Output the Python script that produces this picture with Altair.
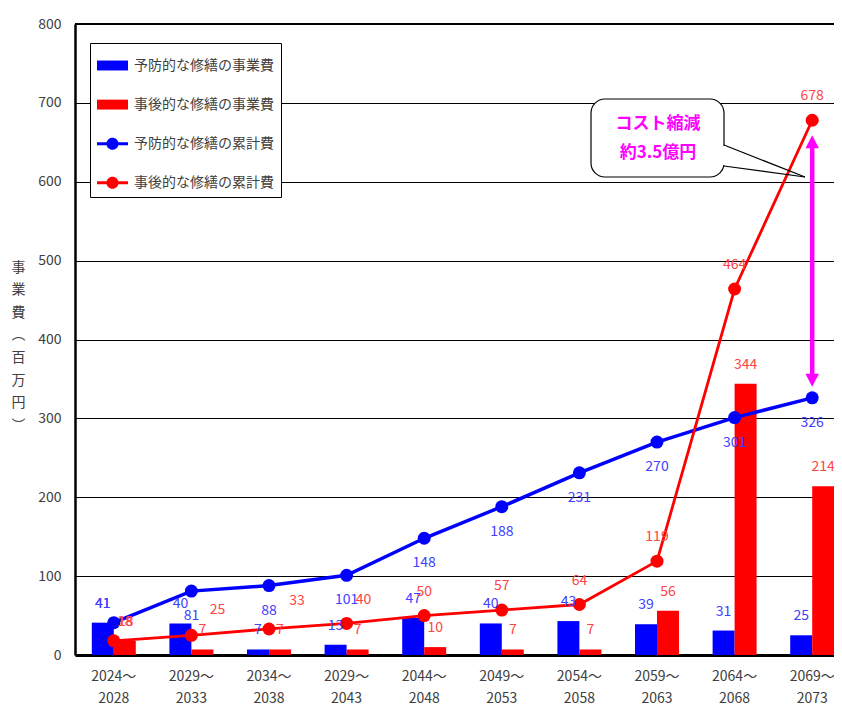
import altair as alt
import pandas as pd

FONT = "Noto Sans CJK JP"
TXT = "#404040"
BLUE_TXT = "#4040FF"
RED_TXT = "#FF4444"

# ---------------- data ----------------
periods = ["2024～\n2028", "2029～\n2033", "2034～\n2038", "2029～\n2043", "2044～\n2048",
           "2049～\n2053", "2054～\n2058", "2059～\n2063", "2064～\n2068", "2069～\n2073"]
preventive_cost = [41, 40, 7, 13, 47, 40, 43, 39, 31, 25]
reactive_cost = [18, 7, 7, 7, 10, 7, 7, 56, 344, 214]
preventive_cum = [41, 81, 88, 101, 148, 188, 231, 270, 301, 326]
reactive_cum = [18, 25, 33, 40, 50, 57, 64, 119, 464, 678]

series_names = ["予防的な修繕の事業費", "事後的な修繕の事業費", "予防的な修繕の累計費", "事後的な修繕の累計費"]
series_colors = ["#0000FF", "#FF0000", "#0000FF", "#FF0000"]

y_ticks = [0, 100, 200, 300, 400, 500, 600, 700, 800]
y_title = ["事", "業", "費", "︵", "百", "万", "円", "︶"]
callout_lines = ["コスト縮減", "約3.5億円"]
arrow_tip_top = 659
arrow_tip_bottom = 340

# manual label nudges (index: (dx, dy)) as placed in the original
prev_cum_nudge = {0: (-11, -19)}
reac_cum_nudge = {0: (12, -19), 1: (26, -25), 2: (28, -28), 3: (17, -23)}

# ---------------- tables ----------------
bar_rows = []
for i, p in enumerate(periods):
    bar_rows.append({"period": p, "series": series_names[0], "value": preventive_cost[i]})
    bar_rows.append({"period": p, "series": series_names[1], "value": reactive_cost[i]})
bars_df = pd.DataFrame(bar_rows)
prev_df = pd.DataFrame({"period": periods, "value": preventive_cum, "idx": list(range(len(periods)))})
reac_df = pd.DataFrame({"period": periods, "value": reactive_cum, "idx": list(range(len(periods)))})

x_scale = alt.Scale(domain=periods, range=[0, 776], paddingInner=0, paddingOuter=0)
y_scale = alt.Scale(domain=[0, 800], nice=False)
color_scale = alt.Scale(domain=series_names, range=series_colors)
label_color_scale = alt.Scale(domain=series_names, range=[BLUE_TXT, RED_TXT, BLUE_TXT, RED_TXT])
off_scale = alt.Scale(domain=series_names[:2], paddingInner=0, paddingOuter=0.764)

x_axis = alt.Axis(title=None, labelAngle=0, ticks=False, domainColor="black", domainWidth=3,
                  labelExpr="split(datum.label, '\\n')", labelLineHeight=22, labelPadding=14,
                  labelFontSize=14, labelColor=TXT, labelFont=FONT, labelBaseline="top", grid=False)
y_axis = alt.Axis(values=y_ticks, grid=True, gridColor="black", gridWidth=1, ticks=False,
                  domainColor="black", domainWidth=2.5, labelFontSize=14, labelColor=TXT,
                  labelFont=FONT, labelPadding=14, title=y_title, titleAngle=0, titleX=-57,
                  titleY=236, titleAlign="center", titleBaseline="top", titleLineHeight=22.6,
                  titleFontSize=14, titleFontWeight="normal", titleColor=TXT, titleFont=FONT)

shape_paths = [
    "M-1,-0.32H1V0.32H-1Z",
    "M-1,-0.32H1V0.32H-1Z",
    "M-1,-0.1H1V0.1H-1Z M0.39,0A0.39,0.39 0 1 1 -0.39,0A0.39,0.39 0 1 1 0.39,0Z",
    "M-1,-0.1H1V0.1H-1Z M0.39,0A0.39,0.39 0 1 1 -0.39,0A0.39,0.39 0 1 1 0.39,0Z",
]
leg = alt.Legend(orient="none", legendX=15, legendY=19, title=None, symbolSize=961, symbolStrokeWidth=0,
                 labelFontSize=14, labelColor=TXT, labelFont=FONT, rowPadding=16.1, padding=7,
                 strokeColor="black", fillColor="white", labelOffset=6, symbolOpacity=1)

X = alt.X("period:N", sort=periods, scale=x_scale, axis=x_axis)
def Y(field):
    return alt.Y(field, scale=y_scale, axis=y_axis)
COLOR = alt.Color("series:N", scale=color_scale, legend=leg)

bars = alt.Chart(bars_df).mark_bar().encode(
    x=X, xOffset=alt.XOffset("series:N", scale=off_scale),
    y=alt.Y("value:Q", scale=y_scale, axis=y_axis, stack=None), color=COLOR)

top_rule = alt.Chart(pd.DataFrame({"value": [800]})).mark_rule(color="black", strokeWidth=2).encode(y=Y("value:Q"))

prev_line = alt.Chart(prev_df).mark_line(color="#0000FF", strokeWidth=3.5).encode(x=X, y=Y("value:Q"))
prev_pts = alt.Chart(prev_df).mark_circle(color="#0000FF", size=169, opacity=1).encode(x=X, y=Y("value:Q"))
reac_line = alt.Chart(reac_df).mark_line(color="#FF0000", strokeWidth=2.8).encode(x=X, y=Y("value:Q"))
reac_pts = alt.Chart(reac_df).mark_circle(color="#FF0000", size=169, opacity=1).encode(x=X, y=Y("value:Q"))

bar_labels = alt.Chart(bars_df).mark_text(dy=-19, fontSize=14, font=FONT).encode(
    x=X, xOffset=alt.XOffset("series:N", scale=off_scale),
    y=alt.Y("value:Q", scale=y_scale, axis=y_axis, stack=None), text="value:Q",
    fill=alt.Fill("series:N", scale=label_color_scale, legend=None))

def cum_labels(df, color, default_dy, nudges):
    layers = []
    idxs = list(nudges.keys())
    cond = " && ".join([f"datum.idx != {i}" for i in idxs]) if idxs else "true"
    layers.append(alt.Chart(df).transform_filter(cond).mark_text(dy=default_dy, fontSize=14, font=FONT, color=color)
                  .encode(x=X, y=Y("value:Q"), text="value:Q"))
    for i, (dx, dy) in nudges.items():
        layers.append(alt.Chart(df).transform_filter(f"datum.idx == {i}")
                      .mark_text(dx=dx, dy=dy, fontSize=14, font=FONT, color=color)
                      .encode(x=X, y=Y("value:Q"), text="value:Q"))
    return layers

label_layers = cum_labels(prev_df, BLUE_TXT, 25, prev_cum_nudge) + cum_labels(reac_df, RED_TXT, -24, reac_cum_nudge)

# callout
one = pd.DataFrame({"a": [0]})
callout_box = alt.Chart(one).mark_rect(fill="white", stroke="black", strokeWidth=1.2, cornerRadius=14).encode(
    x=alt.value(516), x2=alt.value(649), y=alt.value(75), y2=alt.value(153))
tail1 = alt.Chart(one).mark_rule(color="black", strokeWidth=1.2).encode(
    x=alt.value(649), y=alt.value(121), x2=alt.value(730), y2=alt.value(153))
tail2 = alt.Chart(one).mark_rule(color="black", strokeWidth=1.2).encode(
    x=alt.value(649), y=alt.value(142), x2=alt.value(730), y2=alt.value(153))
tail_gap = alt.Chart(one).mark_rule(color="white", strokeWidth=3).encode(
    x=alt.value(649), y=alt.value(122), y2=alt.value(141))
callout_text = [
    alt.Chart(pd.DataFrame({"t": [txt]})).mark_text(
        fontSize=17, fontWeight="bold", color="#FF00FF", font=FONT).encode(
        x=alt.value(583), y=alt.value(yy), text="t:N")
    for txt, yy in zip(callout_lines, [100, 129])
]

# double arrow
arrow_df = pd.DataFrame({"period": [periods[-1]], "top": [arrow_tip_top], "bottom": [arrow_tip_bottom]})
shaft = alt.Chart(arrow_df).transform_calculate(s1="datum.top - 8", s2="datum.bottom + 8").mark_rule(
    color="#FF00FF", strokeWidth=4.5).encode(x=X, y=Y("s1:Q"), y2="s2:Q")
head_up = alt.Chart(arrow_df).mark_point(shape="M0,0L0.52,1L-0.52,1Z", size=676, filled=True,
                                         color="#FF00FF", opacity=1).encode(x=X, y=Y("top:Q"))
head_down = alt.Chart(arrow_df).mark_point(shape="M0,0L0.52,-1L-0.52,-1Z", size=676, filled=True,
                                           color="#FF00FF", opacity=1).encode(x=X, y=Y("bottom:Q"))

# legend carrier (empty layer)
legend_layer = alt.Chart(pd.DataFrame({"series": series_names})).transform_filter("false").mark_point(
    filled=True, opacity=1).encode(
    color=COLOR,
    shape=alt.Shape("series:N", scale=alt.Scale(domain=series_names, range=shape_paths), legend=leg),
)

chart = alt.layer(
    bars, top_rule, prev_line, prev_pts, reac_line, reac_pts, bar_labels, *label_layers,
    callout_box, tail1, tail2, tail_gap, *callout_text, shaft, head_up, head_down, legend_layer
).properties(
    width=759, height=631,
    autosize=alt.AutoSizeParams(type="none"),
    padding={"left": 67, "top": 16, "right": 0, "bottom": 52},
).configure(font=FONT).configure_view(stroke=None)

chart.save("out.html", embed_options={"renderer": "svg", "actions": False})
